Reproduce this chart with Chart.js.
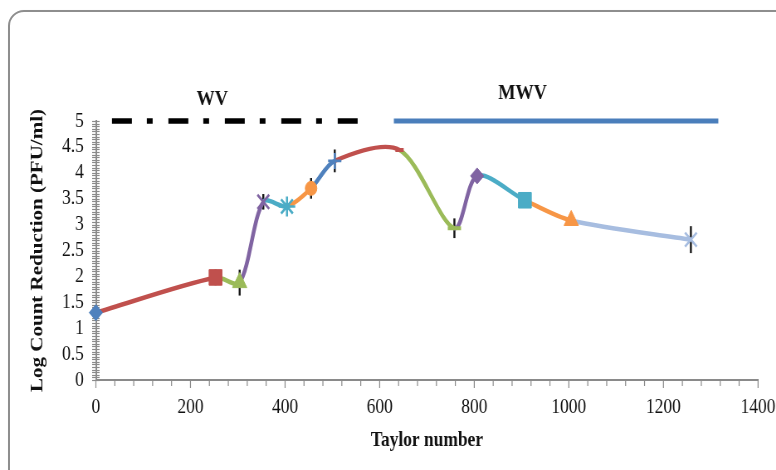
<!DOCTYPE html>
<html>
<head>
<meta charset="utf-8">
<script src="https://cdn.jsdelivr.net/npm/chart.js@4/dist/chart.umd.min.js"></script>
<style>
  html, body { margin: 0; padding: 0; background: #fff; width: 776px; height: 470px; overflow: hidden; position: relative; }
  #frame { position: absolute; left: 8px; top: 10px; width: 800px; height: 490px; border: 2px solid #8e8e8e; border-radius: 16px; box-sizing: border-box; box-shadow: 1px 1px 2px rgba(0,0,0,0.2); }
  #wrap { position: absolute; left: 0; top: 0; width: 935px; height: 470px; transform: scaleX(0.83); transform-origin: 0 0; }
</style>
</head>
<body>
<div id="frame"></div>
<div id="wrap"><canvas id="c" width="935" height="470"></canvas></div>
<script>
// Measured reduction against Taylor number
const taylor       = [0, 253, 304, 354, 404, 455, 505, 642, 758, 806, 907, 1005, 1258];
const logReduction = [1.30, 1.98, 1.88, 3.44, 3.35, 3.70, 4.23, 4.44, 2.93, 3.94, 3.47, 3.08, 2.71];
const errorBars    = [0, 0.15, 0.25, 0.15, 0, 0.20, 0.22, 0, 0.19, 0, 0, 0, 0.26];

// Flow regimes marked along the top of the plot
const regimeNames  = ['WV', 'MWV'];
const regimeStart  = [34, 630];
const regimeEnd    = [562, 1316];
const regimeLabelX = [246, 902];
const regimeLabelY = [5.42, 5.53];

// Axis ticks
const xTicks = [0, 200, 400, 600, 800, 1000, 1200, 1400];
const yTicks = [0, 0.5, 1, 1.5, 2, 2.5, 3, 3.5, 4, 4.5, 5];

// Marker look for each point
const palette = ['#4F81BD', '#C0504D', '#9BBB59', '#8064A2', '#4BACC6', '#F79646',
                 '#4F81BD', '#C0504D', '#9BBB59', '#8064A2', '#4BACC6', '#F79646', '#A7BDE0'];
const shapes  = ['rectRot', 'rect', 'triangle', 'crossRot', 'star', 'circle',
                 'cross', 'line', 'line', 'rectRot', 'rect', 'triangle', 'crossRot'];
const radii   = [8, 11, 10, 10, 10, 7, 8, 5, 8, 8, 11, 10, 10];
const borders = [1, 1, 1, 2.6, 2.6, 1, 2.6, 4, 4, 1, 1, 1, 2.6];

const serif = 'Liberation Serif, Times New Roman, serif';

const overlay = {
  id: 'overlay',
  beforeDatasetsDraw(chart) {
    const { ctx, scales: { x, y } } = chart;
    ctx.save();
    // minor ticks across the axes
    ctx.strokeStyle = '#8a8a8a';
    ctx.lineWidth = 1.2;
    const x0 = x.getPixelForValue(0);
    const y0 = y.getPixelForValue(0);
    for (let k = 0; k <= 100; k++) {
      const py = Math.round(y.getPixelForValue(k * 0.05)) + 0.5;
      ctx.beginPath(); ctx.moveTo(x0 - 4.5, py); ctx.lineTo(x0 + 4.5, py); ctx.stroke();
    }
    for (let v = 0; v <= 1400; v += 40) {
      const px = x.getPixelForValue(v);
      const len = v % 200 === 0 ? 8 : 6;
      ctx.beginPath(); ctx.moveTo(px, y0 - 1); ctx.lineTo(px, y0 + len); ctx.stroke();
    }
    // error bars
    ctx.strokeStyle = '#151515';
    ctx.lineWidth = 2.4;
    taylor.forEach((t, i) => {
      const e = errorBars[i];
      if (!e) return;
      const px = x.getPixelForValue(t);
      ctx.beginPath();
      ctx.moveTo(px, y.getPixelForValue(logReduction[i] - e));
      ctx.lineTo(px, y.getPixelForValue(logReduction[i] + e));
      ctx.stroke();
    });
    ctx.restore();
  },
  afterDraw(chart) {
    const { ctx, scales: { x, y } } = chart;
    ctx.save();
    ctx.fillStyle = '#111';
    ctx.font = 'bold 22px ' + serif;
    ctx.textAlign = 'center';
    ctx.textBaseline = 'middle';
    regimeNames.forEach((name, i) => {
      ctx.fillText(name, x.getPixelForValue(regimeLabelX[i]), y.getPixelForValue(regimeLabelY[i]));
    });
    ctx.restore();
  }
};

new Chart(document.getElementById('c'), {
  type: 'line',
  data: {
    datasets: [
      {
        data: taylor.map((t, i) => ({ x: t, y: logReduction[i] })),
        borderWidth: 4.5,
        tension: 0.3,
        clip: false,
        segment: { borderColor: c => palette[c.p1DataIndex] },
        borderColor: palette[0],
        pointStyle: shapes,
        pointRadius: radii,
        pointBackgroundColor: palette,
        pointBorderColor: palette,
        pointBorderWidth: borders,
        order: 1
      },
      {
        data: [{ x: regimeStart[0], y: 5 }, { x: regimeEnd[0], y: 5 }],
        borderColor: '#000',
        borderWidth: 5.5,
        borderDash: [24, 18, 7, 19],
        pointRadius: 0,
        clip: false,
        order: 2
      },
      {
        data: [{ x: regimeStart[1], y: 5 }, { x: regimeEnd[1], y: 5 }],
        borderColor: '#4A7EBB',
        borderWidth: 5,
        pointRadius: 0,
        clip: false,
        order: 2
      }
    ]
  },
  options: {
    responsive: false,
    animation: false,
    devicePixelRatio: 1,
    layout: { padding: { left: 29, top: 121, right: 21.7, bottom: 0 } },
    plugins: { legend: { display: false }, tooltip: { enabled: false } },
    scales: {
      x: {
        type: 'linear', min: 0, max: 1400,
        afterBuildTicks: s => { s.ticks = xTicks.map(v => ({ value: v })); },
        afterFit: s => { s.height = 90; s.paddingRight = 0; s.paddingLeft = 0; },
        grid: { display: false, drawTicks: false },
        border: { display: true, color: '#8a8a8a', width: 2 },
        ticks: { padding: 15, autoSkip: false, maxRotation: 0, color: '#111',
                 font: { family: serif, size: 21 }, callback: v => String(v) },
        title: { display: true, text: 'Taylor number', color: '#111',
                 font: { family: serif, size: 21, weight: 'bold' }, padding: { top: 0, bottom: 17 } }
      },
      y: {
        type: 'linear', min: 0, max: 5,
        afterBuildTicks: s => { s.ticks = yTicks.map(v => ({ value: v })); },
        afterFit: s => { s.width = 86.5; s.paddingTop = 0; s.paddingBottom = 0; },
        grid: { display: false, drawTicks: false },
        border: { display: true, color: '#8a8a8a', width: 2 },
        ticks: { padding: 14.5, autoSkip: false, color: '#111',
                 font: { family: serif, size: 21 }, callback: v => String(v) },
        title: { display: true, text: 'Log Count Reduction (PFU/ml)', color: '#111',
                 font: { family: serif, size: 21, weight: 'bold' }, padding: { top: 4, bottom: 4 } }
      }
    }
  },
  plugins: [overlay]
});
</script>
</body>
</html>
